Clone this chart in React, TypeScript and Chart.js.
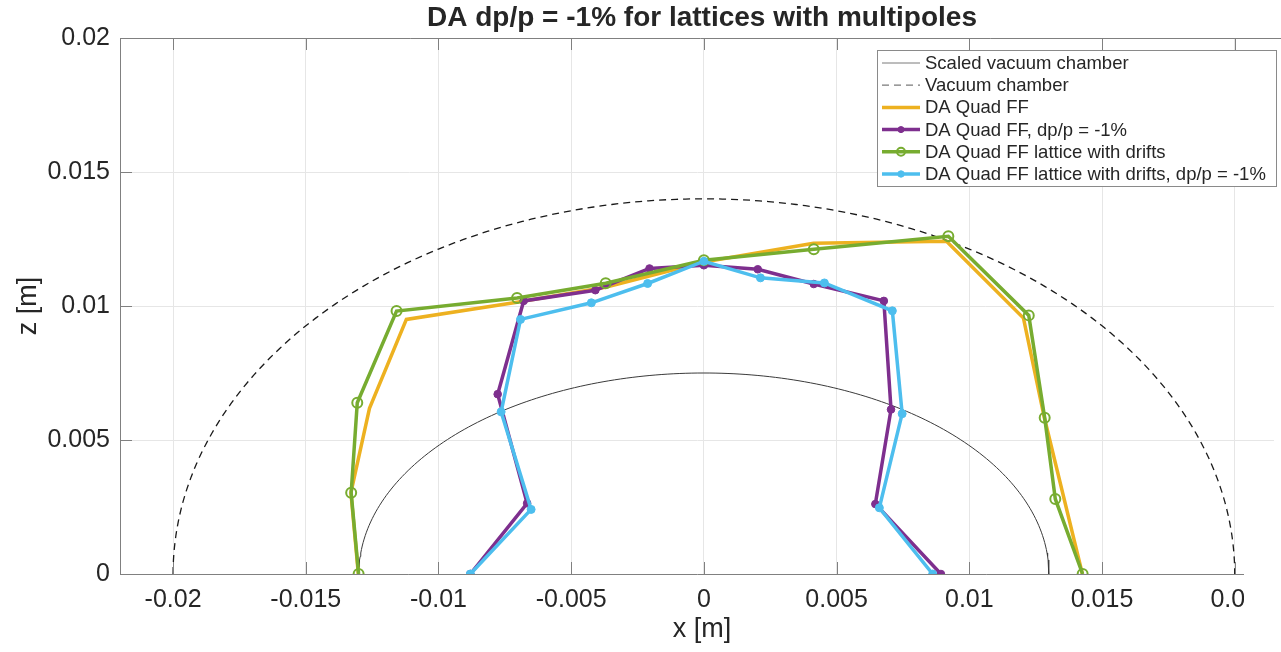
import React, { useEffect, useRef } from 'react';
import { Chart, registerables } from 'chart.js';

Chart.register(...registerables);

// Axis ticks
const xTicks = [-0.02, -0.015, -0.01, -0.005, 0, 0.005, 0.01, 0.015, 0.02];
const zTicks = [0, 0.005, 0.01, 0.015, 0.02];

// Chamber outlines (semi-axes in metres)
const vacuumHalfWidth = 0.02;
const vacuumHalfHeight = 0.014;
const scaledHalfWidth = 0.013;
const scaledHalfHeight = 0.0075;

// DA Quad FF
const quadX = [-0.01302, -0.0133, -0.0126, -0.01121, -0.00704, -0.00371, 0.0, 0.00413, 0.00914, 0.01204, 0.01283, 0.01426];
const quadZ = [0.0, 0.00304, 0.00618, 0.0095, 0.01014, 0.0107, 0.01164, 0.01234, 0.01242, 0.00955, 0.00582, 0.0];

// DA Quad FF, dp/p = -1%
const quadDpX = [-0.0088, -0.00666, -0.00777, -0.00679, -0.00409, -0.00205, 0.0, 0.00203, 0.00414, 0.00678, 0.00705, 0.00646, 0.00893];
const quadDpZ = [0.0, 0.00264, 0.00671, 0.01019, 0.01059, 0.0114, 0.01152, 0.01137, 0.01082, 0.01019, 0.00614, 0.00261, 0.0];

// DA Quad FF lattice with drifts
const driftX = [-0.01301, -0.01329, -0.01306, -0.01158, -0.00704, -0.0037, 0.0, 0.00414, 0.00921, 0.01224, 0.01284, 0.01324, 0.01427];
const driftZ = [0.0, 0.00303, 0.00639, 0.00981, 0.0103, 0.01085, 0.01171, 0.01212, 0.0126, 0.00965, 0.00583, 0.0028, 0.0];

// DA Quad FF lattice with drifts, dp/p = -1%
const driftDpX = [-0.0088, -0.00651, -0.00764, -0.00691, -0.00424, -0.00212, 0.0, 0.00213, 0.00454, 0.0071, 0.00747, 0.00661, 0.00862];
const driftDpZ = [0.0, 0.00241, 0.00605, 0.0095, 0.01012, 0.01084, 0.01167, 0.01105, 0.01086, 0.00982, 0.00598, 0.00247, 0.0];

const FONT = '"Liberation Sans", Arial, Helvetica, sans-serif';
const TEXT = '#262626';
const AXIS = '#808080';

const toPoints = (xs: number[], zs: number[]) => xs.map((x, i) => ({ x, y: zs[i] }));

const halfEllipse = (a: number, b: number) => {
  const steps = 180;
  const pts: { x: number; y: number }[] = [];
  for (let i = 0; i <= steps; i++) {
    const t = (Math.PI * i) / steps;
    pts.push({ x: -a * Math.cos(t), y: b * Math.sin(t) });
  }
  return pts;
};

const fmt = (v: number) => String(Number(v.toFixed(4)));

const framePlugin = {
  id: 'frame',
  afterDraw(chart: any) {
    const { ctx, chartArea: ca, scales } = chart;
    const xs = scales.x;
    const ys = scales.y;
    ctx.save();

    const seg = (x1: number, y1: number, x2: number, y2: number) => {
      ctx.beginPath();
      ctx.moveTo(x1, y1);
      ctx.lineTo(x2, y2);
      ctx.stroke();
    };

    // inward tick marks and top edge
    ctx.strokeStyle = AXIS;
    ctx.lineWidth = 1;
    for (const v of xTicks) {
      const px = Math.round(xs.getPixelForValue(v)) + 0.5;
      seg(px, ca.bottom, px, ca.bottom - 12);
      seg(px, ca.top, px, ca.top + 12);
    }
    for (const v of zTicks) {
      const py = Math.round(ys.getPixelForValue(v)) + 0.5;
      seg(ca.left, py, ca.left + 12, py);
    }
    seg(ca.left, Math.round(ca.top) + 0.5, chart.width, Math.round(ca.top) + 0.5);

    // the bottom axis stops short of the right edge
    ctx.fillStyle = '#ffffff';
    ctx.fillRect(1244, ca.bottom - 1, chart.width - 1244, chart.height - ca.bottom + 1);

    // title and axis labels
    ctx.fillStyle = TEXT;
    ctx.textAlign = 'center';
    ctx.textBaseline = 'middle';
    ctx.font = `bold 28px ${FONT}`;
    ctx.fillText('DA dp/p = -1% for lattices with multipoles', 702, 18);
    ctx.font = `27px ${FONT}`;
    ctx.fillText('x [m]', 702, 630);
    ctx.save();
    ctx.translate(29, (ca.top + ca.bottom) / 2);
    ctx.rotate(-Math.PI / 2);
    ctx.fillText('z [m]', 0, 0);
    ctx.restore();

    // legend
    const bx = 877.5, by = 50.5, bw = 399, bh = 136;
    ctx.fillStyle = '#ffffff';
    ctx.fillRect(bx, by, bw, bh);
    ctx.strokeStyle = '#8a8a8a';
    ctx.lineWidth = 1;
    ctx.strokeRect(bx, by, bw, bh);
    ctx.font = `18.5px ${FONT}`;
    ctx.textAlign = 'left';
    chart.data.datasets.forEach((ds: any, i: number) => {
      const y = 63 + i * 22.2;
      ctx.save();
      ctx.strokeStyle = ds.legendColor || ds.borderColor;
      ctx.lineWidth = ds.borderWidth;
      ctx.setLineDash(ds.borderDash || []);
      seg(882, y, 920, y);
      ctx.setLineDash([]);
      if (ds.pointRadius > 0) {
        ctx.beginPath();
        ctx.arc(901, y, ds.pointRadius * 0.8, 0, Math.PI * 2);
        ctx.fillStyle = ds.pointBackgroundColor;
        ctx.fill();
        ctx.lineWidth = ds.pointBorderWidth;
        ctx.strokeStyle = ds.pointBorderColor;
        ctx.stroke();
      }
      ctx.restore();
      ctx.fillStyle = TEXT;
      ctx.fillText(ds.label, 925, y + 1);
    });

    ctx.restore();
  },
};

export default function App() {
  const ref = useRef<HTMLCanvasElement | null>(null);

  useEffect(() => {
    if (!ref.current) return;
    const yellow = '#EDB120';
    const purple = '#7E2F8E';
    const green = '#77AC30';
    const blue = '#4DBEEE';

    const chart = new Chart(ref.current, {
      type: 'scatter',
      data: {
        datasets: [
          {
            label: 'Scaled vacuum chamber',
            data: halfEllipse(scaledHalfWidth, scaledHalfHeight),
            showLine: true,
            borderColor: '#3a3a3a',
            legendColor: '#7a7a7a',
            borderWidth: 1,
            pointRadius: 0,
            order: 5,
          } as any,
          {
            label: 'Vacuum chamber',
            data: halfEllipse(vacuumHalfWidth, vacuumHalfHeight),
            showLine: true,
            borderColor: '#1a1a1a',
            legendColor: '#7a7a7a',
            borderWidth: 1.3,
            borderDash: [7, 5],
            pointRadius: 0,
            order: 4,
          } as any,
          {
            label: 'DA Quad FF',
            data: toPoints(quadX, quadZ),
            showLine: true,
            borderColor: yellow,
            borderWidth: 3.5,
            pointRadius: 0,
            order: 3,
          },
          {
            label: 'DA Quad FF, dp/p = -1%',
            data: toPoints(quadDpX, quadDpZ),
            showLine: true,
            borderColor: purple,
            borderWidth: 3.5,
            pointRadius: 3.8,
            pointBackgroundColor: purple,
            pointBorderColor: purple,
            pointBorderWidth: 1,
            order: 2,
          },
          {
            label: 'DA Quad FF lattice with drifts',
            data: toPoints(driftX, driftZ),
            showLine: true,
            borderColor: green,
            borderWidth: 3.5,
            pointRadius: 5,
            pointBackgroundColor: 'rgba(255,255,255,0)',
            pointBorderColor: green,
            pointBorderWidth: 2,
            order: 1,
          },
          {
            label: 'DA Quad FF lattice with drifts, dp/p = -1%',
            data: toPoints(driftDpX, driftDpZ),
            showLine: true,
            borderColor: blue,
            borderWidth: 3.5,
            pointRadius: 4,
            pointBackgroundColor: blue,
            pointBorderColor: blue,
            pointBorderWidth: 1,
            order: 0,
          },
        ],
      },
      options: {
        animation: false,
        responsive: false,
        events: [],
        layout: { padding: { top: 38, left: 0, right: 0, bottom: 0 } },
        plugins: {
          legend: { display: false },
          title: { display: false },
          tooltip: { enabled: false },
        },
        scales: {
          x: {
            type: 'linear',
            min: -0.022,
            max: 0.02148,
            bounds: 'data',
            afterBuildTicks: (s: any) => {
              s.ticks = xTicks.map((value) => ({ value }));
            },
            afterFit: (s: any) => {
              s.height = 78;
              s.paddingLeft = 0;
              s.paddingRight = 0;
            },
            ticks: {
              autoSkip: false,
              maxRotation: 0,
              padding: 11,
              color: TEXT,
              font: { family: FONT, size: 25 },
              callback: (v: any) => fmt(Number(v)),
            },
            grid: { color: '#e6e6e6', drawTicks: false, lineWidth: 1 },
            border: { color: AXIS, width: 1 },
          },
          y: {
            type: 'linear',
            min: 0,
            max: 0.02,
            bounds: 'data',
            afterBuildTicks: (s: any) => {
              s.ticks = zTicks.map((value) => ({ value }));
            },
            afterFit: (s: any) => {
              s.width = 120;
              s.paddingTop = 0;
              s.paddingBottom = 0;
            },
            ticks: {
              autoSkip: false,
              padding: 10,
              color: TEXT,
              font: { family: FONT, size: 25 },
              callback: (v: any) => fmt(Number(v)),
            },
            grid: { color: '#e6e6e6', drawTicks: false, lineWidth: 1 },
            border: { color: AXIS, width: 1 },
          },
        },
      } as any,
      plugins: [framePlugin],
    });

    return () => chart.destroy();
  }, []);

  return (
    <div style={{ position: 'fixed', left: 0, top: 0, width: 1281, height: 652, background: '#ffffff' }}>
      <canvas ref={ref} width={1281} height={652} style={{ display: 'block' }} />
    </div>
  );
}
